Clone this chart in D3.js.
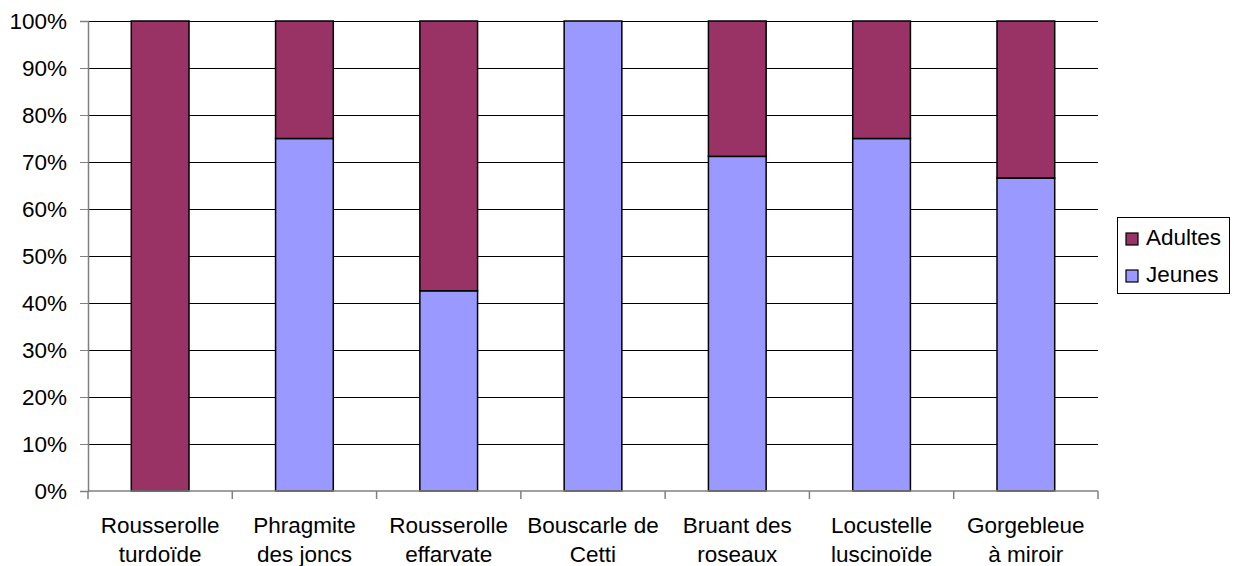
<!DOCTYPE html>
<html>
<head>
<meta charset="utf-8">
<script src="https://cdn.jsdelivr.net/npm/d3@7"></script>
<style>
body { margin: 0; background: #fff; }
text { font-family: "Liberation Sans", Arial, sans-serif; }
</style>
</head>
<body>
<script>
var w = 1234,
    h = 566,
    plotLeft = 88,
    plotRight = 1098,
    plotTop = 21,
    plotBottom = 491,
    fontSize = 22.5;

// data
var categories = [
  ["Rousserolle", "turdoïde"],
  ["Phragmite", "des joncs"],
  ["Rousserolle", "effarvate"],
  ["Bouscarle de", "Cetti"],
  ["Bruant des", "roseaux"],
  ["Locustelle", "luscinoïde"],
  ["Gorgebleue", "à miroir"]
];
var jeunes  = [0, 75, 42.6, 100, 71.2, 75, 66.6];
var adultes = [100, 25, 57.4, 0, 28.8, 25, 33.4];
var yTicks = [0, 10, 20, 30, 40, 50, 60, 70, 80, 90, 100];
var seriesNames = ["Adultes", "Jeunes"];
var seriesColors = {"Adultes": "#993366", "Jeunes": "#9999ff"};

var svg = d3.select("body").append("svg")
  .attr("width", w)
  .attr("height", h);

var x = d3.scaleBand()
  .domain(d3.range(categories.length))
  .range([plotLeft, plotRight])
  .paddingInner(0.6)
  .paddingOuter(0.3);

var y = d3.scaleLinear()
  .domain([0, 100])
  .range([plotBottom, plotTop]);

// gridlines
svg.append("g")
  .selectAll("line")
  .data(yTicks.filter(function(d) { return d > 0; }))
  .enter().append("line")
  .attr("x1", plotLeft)
  .attr("x2", plotRight)
  .attr("y1", function(d) { return Math.round(y(d)) + 0.5; })
  .attr("y2", function(d) { return Math.round(y(d)) + 0.5; })
  .attr("stroke", "#000")
  .attr("stroke-width", 1);

// stacked bars
var stackData = categories.map(function(c, i) {
  return {i: i, Jeunes: jeunes[i], Adultes: adultes[i]};
});
var stack = d3.stack().keys(["Jeunes", "Adultes"]);
var layers = stack(stackData);

svg.append("g")
  .selectAll("g")
  .data(layers)
  .enter().append("g")
  .attr("fill", function(d) { return seriesColors[d.key]; })
  .selectAll("rect")
  .data(function(d) { return d.filter(function(p) { return p[1] - p[0] > 0; }); })
  .enter().append("rect")
  .attr("x", function(d) { return x(d.data.i); })
  .attr("width", x.bandwidth())
  .attr("y", function(d) { return y(d[1]); })
  .attr("height", function(d) { return y(d[0]) - y(d[1]); })
  .attr("stroke", "#000")
  .attr("stroke-width", 1.5);

// y axis
var yAxis = svg.append("g")
  .attr("transform", "translate(" + plotLeft + ",0)")
  .call(d3.axisLeft(y).tickValues(yTicks).tickSize(8).tickPadding(13)
    .tickFormat(function(d) { return d + "%"; }));
yAxis.select(".domain").attr("stroke", "#808080").attr("stroke-width", 1.5);
yAxis.selectAll(".tick line").attr("stroke", "#808080");
yAxis.selectAll("text").attr("font-size", fontSize).attr("fill", "#000")
  .attr("font-family", "Liberation Sans, Arial, sans-serif");

// x axis line with ticks between categories
svg.append("line")
  .attr("x1", plotLeft).attr("x2", plotRight)
  .attr("y1", plotBottom).attr("y2", plotBottom)
  .attr("stroke", "#808080").attr("stroke-width", 1.5);

svg.append("g")
  .selectAll("line")
  .data(d3.range(categories.length + 1))
  .enter().append("line")
  .attr("x1", function(d) { return plotLeft + d * x.step(); })
  .attr("x2", function(d) { return plotLeft + d * x.step(); })
  .attr("y1", plotBottom)
  .attr("y2", plotBottom + 8)
  .attr("stroke", "#808080")
  .attr("stroke-width", 1.5);

// category labels
var labels = svg.append("g")
  .selectAll("text")
  .data(categories)
  .enter().append("text")
  .attr("text-anchor", "middle")
  .attr("font-size", fontSize)
  .attr("fill", "#000");
labels.each(function(d, i) {
  var t = d3.select(this);
  var cx = x(i) + x.bandwidth() / 2;
  d.forEach(function(line, k) {
    t.append("tspan")
      .attr("x", cx)
      .attr("y", 533 + k * 29)
      .text(line);
  });
});

// legend
var legend = svg.append("g");
legend.append("rect")
  .attr("x", 1117.5).attr("y", 217.5)
  .attr("width", 112).attr("height", 76)
  .attr("fill", "#fff")
  .attr("stroke", "#000")
  .attr("stroke-width", 1);

var items = legend.selectAll("g.item")
  .data(seriesNames)
  .enter().append("g")
  .attr("class", "item")
  .attr("transform", function(d, i) { return "translate(1126," + (233 + i * 37) + ")"; });
items.append("rect")
  .attr("width", 12).attr("height", 12)
  .attr("fill", function(d) { return seriesColors[d]; })
  .attr("stroke", "#000")
  .attr("stroke-width", 1.2);
items.append("text")
  .attr("x", 20)
  .attr("y", 12)
  .attr("font-size", fontSize)
  .attr("fill", "#000")
  .text(function(d) { return d; });
</script>
</body>
</html>
